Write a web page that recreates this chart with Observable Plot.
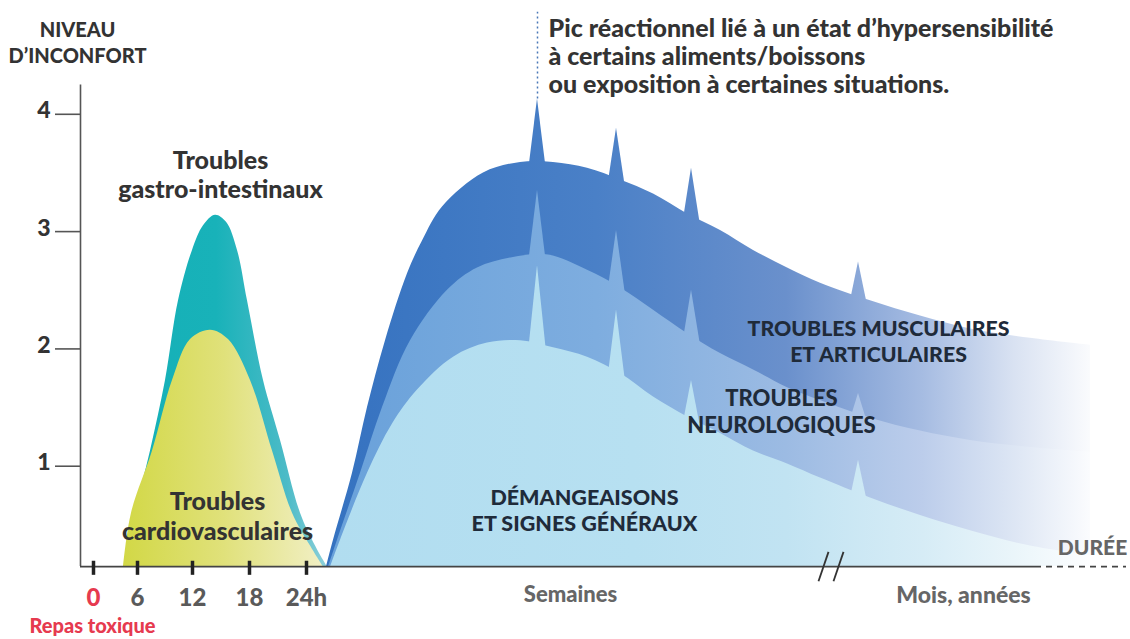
<!DOCTYPE html>
<html><head><meta charset="utf-8">
<script src="https://cdn.jsdelivr.net/npm/d3@7"></script>
<script src="https://cdn.jsdelivr.net/npm/@observablehq/plot@0.6"></script>
<style>html,body{margin:0;padding:0;background:#fff} #chart svg{display:block}</style>
</head><body><div id="chart"></div>
<script>
// ---- data (x: position along the schematic duration axis, y: discomfort level) ----
const FLOOR = 0.145;
const yTicks = [1, 2, 3, 4];
const xTickPos = [93, 137, 192, 249, 306];
const xTickLabels = ["0", "6", "12", "18", "24h"];
const breakPos = [823, 838];

const gastroX = [127, 135, 150, 165, 178, 192, 203, 215, 226, 237, 247, 263, 280, 300, 315, 327];
const gastroY = [0.14, 0.60, 1.13, 1.73, 2.41, 2.84, 3.05, 3.14, 3.08, 2.84, 2.41, 1.73, 1.22, 0.60, 0.32, 0.14];

const cardioX = [123, 131, 152, 172, 190, 210, 228, 250, 272, 292, 310, 323];
const cardioY = [0.14, 0.60, 1.13, 1.73, 2.08, 2.16, 2.08, 1.73, 1.13, 0.60, 0.32, 0.14];

const muscleX = [326, 333, 352, 367, 385, 407, 422, 442, 483, 520, 553, 587, 620, 653, 687, 720, 753, 787, 820, 870, 920, 970, 1030, 1090];
const muscleY = [0.14, 0.37, 0.94, 1.50, 2.07, 2.64, 2.92, 3.21, 3.50, 3.59, 3.59, 3.54, 3.44, 3.32, 3.15, 3.01, 2.84, 2.69, 2.56, 2.41, 2.28, 2.17, 2.09, 2.03];

const neuroX = [328, 337, 360, 382, 410, 447, 477, 513, 548, 587, 620, 653, 687, 720, 753, 787, 820, 870, 920, 970, 1030, 1090];
const neuroY = [0.14, 0.37, 0.94, 1.50, 2.07, 2.50, 2.69, 2.78, 2.80, 2.67, 2.52, 2.33, 2.13, 1.96, 1.82, 1.67, 1.56, 1.41, 1.30, 1.22, 1.16, 1.12];

const demangX = [330, 340, 367, 392, 417, 453, 487, 520, 553, 587, 620, 653, 687, 720, 753, 787, 820, 870, 920, 970, 1030, 1090];
const demangY = [0.14, 0.37, 0.94, 1.36, 1.65, 1.93, 2.05, 2.07, 2.01, 1.93, 1.79, 1.59, 1.42, 1.28, 1.13, 1.02, 0.90, 0.73, 0.58, 0.45, 0.32, 0.24];

// reactive peaks (spikes)
const spikeX = [537, 616, 691, 858];
const muscleSpikeTip = [4.13, 3.88, 3.54, 2.74];
const muscleSpikeBase = [3.59, 3.45, 3.13, 2.45];
const neuroSpikeTip = [3.35, 3.01, 2.50, 1.62];
const neuroSpikeBase = [2.80, 2.54, 2.11, 1.45];
const demangSpikeTip = [2.71, 2.33, 1.73, 1.05];
const demangSpikeBase = [2.05, 1.80, 1.41, 0.77];

// ---- build tables ----
const zip = (xs, ys) => xs.map((x, i) => ({x, y: ys[i]}));
const spikes = (tips, bases) => spikeX.flatMap((x, i) => [
  {id: i, x: x - 9, y: bases[i] - 0.08},
  {id: i, x: x, y: tips[i]},
  {id: i, x: x + 9, y: bases[i] - 0.08}
]);

const FONT = "'Lato', 'Roboto', sans-serif";
const W = 900;
const dark = "#333333";
const navy = "#1f2b3a";
const red = "#e63a4f";
const grey = "#5a5a5a";

const area = (data, fill) => Plot.areaY(data, {x: "x", y1: FLOOR, y2: "y", curve: "catmull-rom", fill});
const spikeArea = (data, fill) => Plot.areaY(data, {x: "x", y1: FLOOR, y2: "y", z: "id", curve: "linear", fill});

const chart = Plot.plot({
  width: 1130,
  height: 639,
  margin: 0,
  x: {domain: [0, 1130], axis: null},
  y: {domain: [-0.477, 4.970], axis: null},
  style: {fontFamily: FONT, background: "#fff"},
  marks: [
    area(zip(gastroX, gastroY), "url(#gTeal)"),
    area(zip(cardioX, cardioY), "url(#gYellow)"),
    area(zip(muscleX, muscleY), "url(#gDark)"),
    spikeArea(spikes(muscleSpikeTip, muscleSpikeBase), "url(#gDark)"),
    area(zip(neuroX, neuroY), "url(#gMed)"),
    spikeArea(spikes(neuroSpikeTip, neuroSpikeBase), "url(#gMed)"),
    area(zip(demangX, demangY), "url(#gLight)"),
    spikeArea(spikes(demangSpikeTip, demangSpikeBase), "url(#gLight)"),

    // axes
    Plot.ruleX([80], {y1: FLOOR, y2: 4.25, stroke: "#555", strokeWidth: 1.6}),
    Plot.ruleY([FLOOR], {x1: 80, x2: 1035, stroke: "#444", strokeWidth: 1.8}),
    Plot.ruleY([FLOOR], {x1: 1035, x2: 1126, stroke: "#444", strokeWidth: 1.8, strokeDasharray: "6,5"}),
    Plot.ruleY(yTicks, {y: d => d, x1: 55, x2: 80, stroke: "#555", strokeWidth: 1.6}),
    Plot.text(yTicks, {x: 50, y: d => d, text: d => String(d), textAnchor: "end", lineAnchor: "bottom", dy: 4,
      fontSize: 23, fontWeight: W, fill: dark}),
    Plot.ruleX(xTickPos, {x: d => d, y1: 0.07, y2: 0.19, stroke: "#222", strokeWidth: 3.5}),
    Plot.text(xTickPos, {x: d => d, y: -0.13, text: (d, i) => xTickLabels[i],
      fill: (d, i) => (i === 0 ? red : grey), fontSize: 24, fontWeight: W}),
    Plot.link(breakPos, {x1: d => d - 5, y1: 0.02, x2: d => d + 5, y2: 0.27, stroke: "#333", strokeWidth: 1.8}),

    // reactive-peak annotation
    Plot.ruleX([537], {y1: 4.13, y2: 4.87, stroke: "#4a78b8", strokeWidth: 1.5, strokeDasharray: "2,3"}),
    Plot.text(["Pic réactionnel lié à un état d’hypersensibilité\nà certains aliments/boissons\nou exposition à certaines situations."],
      {x: 548, y: 4.50, textAnchor: "start", lineHeight: 1.12, fontSize: 25, fontWeight: W, fill: dark}),

    // texts
    Plot.text(["NIVEAU\nD’INCONFORT"], {x: 77, y: 4.62, lineHeight: 1.3, fontSize: 20, fontWeight: W, fill: dark}),
    Plot.text(["Troubles\ngastro-intestinaux"], {x: 220, y: 3.49, lineHeight: 1.15, fontSize: 25, fontWeight: W, fill: dark}),
    Plot.text(["Troubles\ncardiovasculaires"], {x: 217, y: 0.58, lineHeight: 1.17, fontSize: 25, fontWeight: W, fill: dark}),
    Plot.text(["DÉMANGEAISONS\nET SIGNES GÉNÉRAUX"], {x: 584, y: 0.63, lineHeight: 1.2, fontSize: 21.5, fontWeight: W, fill: navy}),
    Plot.text(["TROUBLES\nNEUROLOGIQUES"], {x: 781, y: 1.47, lineHeight: 1.2, fontSize: 22, fontWeight: W, fill: navy}),
    Plot.text(["TROUBLES MUSCULAIRES\nET ARTICULAIRES"], {x: 878, y: 2.07, lineHeight: 1.2, fontSize: 21.3, fontWeight: W, fill: navy}),
    Plot.text(["Repas toxique"], {x: 92, y: -0.37, fontSize: 20, fontWeight: W, fill: red}),
    Plot.text(["Semaines"], {x: 570, y: -0.10, fontSize: 22, fontWeight: W, fill: "#666"}),
    Plot.text(["Mois, années"], {x: 963, y: -0.10, fontSize: 23, fontWeight: W, fill: "#666"}),
    Plot.text(["DURÉE"], {x: 1092, y: 0.30, fontSize: 21, fontWeight: W, fill: "#666"})
  ]
});

// gradients (positions taken from the plot's own x scale)
const sx = chart.scale("x");
const defs = d3.select(chart).insert("defs", ":first-child");
function grad(id, from, to, stops) {
  const g = defs.append("linearGradient").attr("id", id).attr("gradientUnits", "userSpaceOnUse")
    .attr("x1", sx.apply(from)).attr("x2", sx.apply(to)).attr("y1", 0).attr("y2", 0);
  stops.forEach(([o, c]) => g.append("stop").attr("offset", o).attr("stop-color", c));
}
grad("gTeal", 125, 327, [[0, "#15b0b7"], [0.45, "#18b2b9"], [0.8, "#4cbbc7"], [1, "#8ed0da"]]);
grad("gYellow", 123, 323, [[0, "#d2d846"], [0.5, "#e0e17a"], [1, "#f1efc4"]]);
grad("gDark", 330, 1090, [[0, "#3572c0"], [0.35, "#4a80c7"], [0.6, "#6a90cc"], [0.78, "#a6bce2"], [0.9, "#d9e2f2"], [1, "#fafbfd"]]);
grad("gMed", 330, 1090, [[0, "#69a1da"], [0.35, "#7eaddf"], [0.6, "#9cbbe3"], [0.78, "#bccdeb"], [0.9, "#dde6f4"], [1, "#fbfcfe"]]);
grad("gLight", 330, 1090, [[0, "#b1ddf0"], [0.4, "#b7e0f1"], [0.6, "#c1e3f2"], [0.78, "#d6ecf6"], [0.9, "#eaf5fa"], [1, "#fdfeff"]]);

document.getElementById("chart").append(chart);
</script></body></html>
